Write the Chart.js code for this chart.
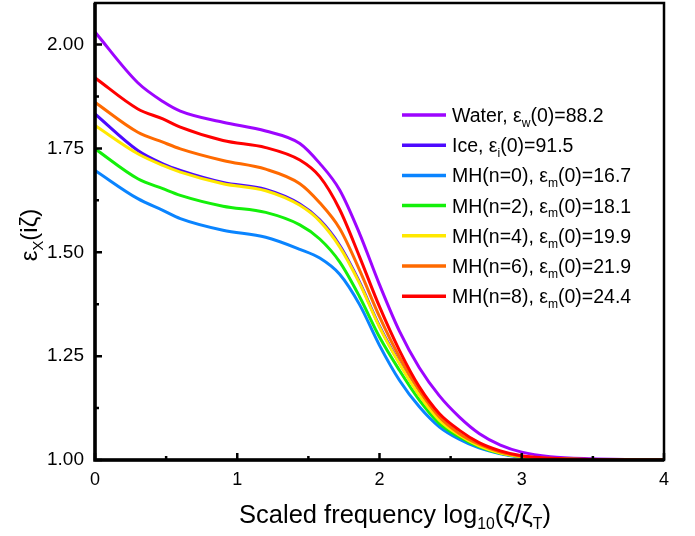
<!DOCTYPE html>
<html>
<head>
<meta charset="utf-8">
<script src="https://cdn.jsdelivr.net/npm/chart.js@4.4.1/dist/chart.umd.min.js"></script>
<style>
  html, body { margin: 0; padding: 0; background: #fff; }
</style>
</head>
<body>
<canvas id="epsChart" width="695" height="536"></canvas>
<script>
  // log10(zeta/zeta_T) sample positions
  const logFreq = [0, 0.301, 0.477, 0.6, 0.9, 1.2, 1.44, 1.58, 1.72, 1.86, 2.0, 2.14, 2.28, 2.42, 2.56, 2.7, 2.85, 3.0, 3.2, 3.5, 4.0];

  const water = [2.030, 1.908, 1.863, 1.840, 1.813, 1.792, 1.762, 1.714, 1.650, 1.545, 1.422, 1.310, 1.222, 1.155, 1.104, 1.064, 1.036, 1.019, 1.008, 1.003, 1.000];
  const ice = [1.833, 1.745, 1.713, 1.697, 1.668, 1.651, 1.616, 1.578, 1.517, 1.428, 1.322, 1.234, 1.158, 1.097, 1.061, 1.035, 1.017, 1.008, 1.003, 1.001, 1.000];
  const mh0 = [1.697, 1.629, 1.601, 1.581, 1.553, 1.536, 1.507, 1.486, 1.447, 1.374, 1.276, 1.192, 1.128, 1.080, 1.050, 1.029, 1.015, 1.007, 1.003, 1.001, 1.000];
  const mh2 = [1.749, 1.677, 1.653, 1.637, 1.611, 1.596, 1.566, 1.532, 1.477, 1.393, 1.296, 1.216, 1.144, 1.088, 1.056, 1.032, 1.016, 1.008, 1.003, 1.001, 1.000];
  const mh4 = [1.805, 1.737, 1.709, 1.693, 1.665, 1.648, 1.613, 1.575, 1.513, 1.425, 1.320, 1.232, 1.156, 1.096, 1.060, 1.034, 1.017, 1.008, 1.003, 1.001, 1.000];
  const mh6 = [1.861, 1.789, 1.765, 1.749, 1.721, 1.700, 1.665, 1.619, 1.557, 1.457, 1.345, 1.248, 1.168, 1.104, 1.064, 1.038, 1.019, 1.009, 1.004, 1.001, 1.000];
  const mh8 = [1.920, 1.845, 1.821, 1.801, 1.769, 1.752, 1.722, 1.682, 1.603, 1.489, 1.369, 1.264, 1.176, 1.112, 1.072, 1.042, 1.022, 1.010, 1.004, 1.001, 1.000];

  const seriesNames = ['Water', 'Ice', 'MH(n=0)', 'MH(n=2)', 'MH(n=4)', 'MH(n=6)', 'MH(n=8)'];
  const epsSub = ['w', 'i', 'm', 'm', 'm', 'm', 'm'];
  const epsZero = ['88.2', '91.5', '16.7', '18.1', '19.9', '21.9', '24.4'];
  const seriesData = [water, ice, mh0, mh2, mh4, mh6, mh8];
  const colors = ['#9d05ff', '#4d0aff', '#0a84ff', '#14f00a', '#ffe800', '#ff6a00', '#ff0000'];

  const xTicks = [0, 1, 2, 3, 4];
  const yTicks = [1.00, 1.25, 1.50, 1.75, 2.00];

  const FONT = '"Liberation Sans", Arial, sans-serif';

  // draws text with subscript parts
  function richText(ctx, parts, x, y, size, align) {
    let w = 0;
    parts.forEach(p => {
      ctx.font = (p.sub ? size * 0.62 : size) + 'px ' + FONT;
      w += ctx.measureText(p.t).width;
    });
    let cx = align === 'center' ? x - w / 2 : x;
    parts.forEach(p => {
      const s = p.sub ? size * 0.62 : size;
      ctx.font = s + 'px ' + FONT;
      ctx.fillText(p.t, cx, p.sub ? y + size * 0.25 : y);
      cx += ctx.measureText(p.t).width;
    });
  }

  const decorations = {
    id: 'decorations',
    afterDraw(chart) {
      const ctx = chart.ctx;
      const a = chart.chartArea;
      const xs = chart.scales.x, ys = chart.scales.y;
      ctx.save();
      ctx.strokeStyle = '#000';
      ctx.fillStyle = '#000';
      ctx.lineCap = 'butt';

      // frame
      ctx.lineWidth = 2.5;
      ctx.strokeRect(a.left, a.top, a.right - a.left, a.bottom - a.top);
      ctx.lineWidth = 3.5;
      ctx.beginPath();
      ctx.moveTo(a.left, a.top); ctx.lineTo(a.left, a.bottom); ctx.lineTo(a.right, a.bottom);
      ctx.stroke();

      // inward ticks
      ctx.lineWidth = 2.5;
      ctx.beginPath();
      xTicks.forEach((v, i) => {
        const px = xs.getPixelForValue(v);
        ctx.moveTo(px, a.bottom); ctx.lineTo(px, a.bottom - 7);
        if (i < xTicks.length - 1) {
          const pm = xs.getPixelForValue(v + 0.5);
          ctx.moveTo(pm, a.bottom); ctx.lineTo(pm, a.bottom - 4);
        }
      });
      yTicks.forEach((v, i) => {
        const py = ys.getPixelForValue(v);
        ctx.moveTo(a.left, py); ctx.lineTo(a.left + 7, py);
        if (i < yTicks.length - 1) {
          const pm = ys.getPixelForValue(v + 0.125);
          ctx.moveTo(a.left, pm); ctx.lineTo(a.left + 4, pm);
        }
      });
      ctx.stroke();

      // axis titles
      ctx.textBaseline = 'alphabetic';
      richText(ctx, [{ t: 'Scaled frequency log' }, { t: '10', sub: true }, { t: '(ζ/ζ' }, { t: 'T', sub: true }, { t: ')' }], 395, 523, 25.5, 'center');
      ctx.save();
      ctx.translate(37, 235);
      ctx.rotate(-Math.PI / 2);
      richText(ctx, [{ t: 'ε' }, { t: 'X', sub: true }, { t: '(iζ)' }], 0, 0, 24, 'center');
      ctx.restore();

      // legend
      seriesNames.forEach((name, i) => {
        const cy = 115 + i * 30.2;
        ctx.strokeStyle = colors[i];
        ctx.lineWidth = 3.5;
        ctx.beginPath();
        ctx.moveTo(402, cy); ctx.lineTo(446, cy);
        ctx.stroke();
        ctx.fillStyle = '#000';
        richText(ctx, [{ t: name + ', ε' }, { t: epsSub[i], sub: true }, { t: '(0)=' + epsZero[i] }], 452, cy + 7, 19.5, 'left');
      });
      ctx.restore();
    }
  };

  const ctx = document.getElementById('epsChart').getContext('2d');
  new Chart(ctx, {
    type: 'line',
    data: {
      datasets: seriesData.map((vals, i) => ({
        label: seriesNames[i],
        data: vals.map((v, j) => ({ x: logFreq[j], y: v })),
        borderColor: colors[i],
        borderWidth: 3,
        pointRadius: 0,
        cubicInterpolationMode: 'monotone',
        order: seriesData.length - i
      }))
    },
    options: {
      responsive: false,
      animation: false,
      layout: { padding: { left: 0, right: 31, top: 3, bottom: 0 } },
      plugins: { legend: { display: false }, tooltip: { enabled: false } },
      scales: {
        x: {
          type: 'linear',
          min: 0,
          max: 4,
          afterBuildTicks: s => { s.ticks = xTicks.map(v => ({ value: v })); },
          afterFit: s => { s.height = 76; s.paddingLeft = 0; s.paddingRight = 0; },
          grid: { display: false, drawTicks: false },
          border: { display: false },
          ticks: { color: '#000', padding: 9, font: { family: FONT, size: 18 }, callback: v => String(v) }
        },
        y: {
          type: 'linear',
          min: 1.0,
          max: 2.1,
          afterBuildTicks: s => { s.ticks = yTicks.map(v => ({ value: v })); },
          afterFit: s => { s.width = 95; s.paddingTop = 0; s.paddingBottom = 0; },
          grid: { display: false, drawTicks: false },
          border: { display: false },
          ticks: { color: '#000', padding: 11, font: { family: FONT, size: 19 }, callback: v => v.toFixed(2) }
        }
      }
    },
    plugins: [decorations]
  });
</script>
</body>
</html>
